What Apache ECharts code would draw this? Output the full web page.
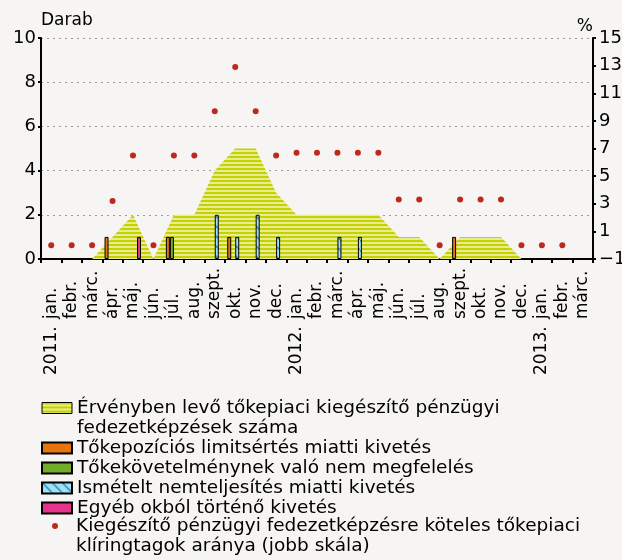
<!DOCTYPE html>
<html lang="hu">
<head>
<meta charset="UTF-8">
<title>Tőkepiaci kiegészítő pénzügyi fedezetképzések</title>
<script src="https://cdn.jsdelivr.net/npm/echarts@6/dist/echarts.min.js"></script>
<style>
    html, body { margin: 0; padding: 0; background: #f6f5f3; }
    #chart { width: 622px; height: 560px; }
</style>
</head>
<body>
<div id="chart"></div>
<script>
    // hónapok 2011. jan. - 2013. márc.
    const months = ['jan.', 'febr.', 'márc.', 'ápr.', 'máj.', 'jún.', 'júl.', 'aug.', 'szept.', 'okt.', 'nov.', 'dec.',
        'jan.', 'febr.', 'márc.', 'ápr.', 'máj.', 'jún.', 'júl.', 'aug.', 'szept.', 'okt.', 'nov.', 'dec.',
        'jan.', 'febr.', 'márc.'];
    const years = ['2011.', '2011.', '2011.', '2011.', '2011.', '2011.', '2011.', '2011.', '2011.', '2011.', '2011.', '2011.',
        '2012.', '2012.', '2012.', '2012.', '2012.', '2012.', '2012.', '2012.', '2012.', '2012.', '2012.', '2012.',
        '2013.', '2013.', '2013.'];
    const categories = months.map((m, i) => years[i] + ' ' + m);

    // bal skála (darab)
    const ervenyben = [0, 0, 0, 1, 2, 0, 2, 2, 4, 5, 5, 3, 2, 2, 2, 2, 2, 1, 1, 0, 1, 1, 1, 0, 0, 0, 0];
    const tokepozicio = [null, null, null, 1, null, null, 1, null, null, 1, null, null,
        null, null, null, null, null, null, null, null, 1, null, null, null, null, null, null];
    const tokekovetelmeny = [null, null, null, null, null, null, 1, null, null, null, null, null,
        null, null, null, null, null, null, null, null, null, null, null, null, null, null, null];
    const ismetelt = [null, null, null, null, null, null, null, null, 2, 1, 2, 1,
        null, null, 1, 1, null, null, null, null, null, null, null, null, null, null, null];
    const egyeb = [null, null, null, null, 1, null, null, null, null, null, null, null,
        null, null, null, null, null, null, null, null, null, null, null, null, null, null, null];
    // jobb skála (%)
    const arany = [0, 0, 0, 3.2, 6.5, 0, 6.5, 6.5, 9.7, 12.9, 9.7, 6.5,
        6.7, 6.7, 6.7, 6.7, 6.7, 3.3, 3.3, 0, 3.3, 3.3, 3.3, 0, 0, 0, null];

    const names = [
        'Érvényben levő tőkepiaci kiegészítő pénzügyi fedezetképzések száma',
        'Tőkepozíciós limitsértés miatti kivetés',
        'Tőkekövetelménynek való nem megfelelés',
        'Ismételt nemteljesítés miatti kivetés',
        'Egyéb okból történő kivetés',
        'Kiegészítő pénzügyi fedezetképzésre köteles tőkepiaci klíringtagok aránya (jobb skála)'
    ];
    const legendLines = {};
    legendLines[names[0]] = ['Érvényben levő tőkepiaci kiegészítő pénzügyi', 'fedezetképzések száma'];
    legendLines[names[5]] = ['Kiegészítő pénzügyi fedezetképzésre köteles tőkepiaci', 'klíringtagok aránya (jobb skála)'];
    const legendFormat = n => (legendLines[n] || [n]).map(s => '{t|' + s + '}').join('\n');

    const font = 'DejaVu Sans';

    // vízszintes csíkozás
    let stripeCanvas = () => {
        const c = document.createElement('canvas');
        c.width = 4; c.height = 4;
        const ctx = c.getContext('2d');
        ctx.fillStyle = '#e8ed93';
        ctx.fillRect(0, 0, 4, 4);
        ctx.fillStyle = '#c6d200';
        ctx.fillRect(0, 0, 4, 2);
        return c;
    };
    // ferde sraffozás
    let hatchCanvas = () => {
        const c = document.createElement('canvas');
        c.width = 10; c.height = 10;
        const ctx = c.getContext('2d');
        ctx.fillStyle = '#a3def2';
        ctx.fillRect(0, 0, 10, 10);
        ctx.strokeStyle = '#1d8ec2';
        ctx.lineWidth = 1.5;
        ctx.beginPath();
        ctx.moveTo(-1, -1); ctx.lineTo(11, 11);
        ctx.stroke();
        return c;
    };
    const stripe = {image: stripeCanvas(), repeat: 'repeat'};
    const hatch = {image: hatchCanvas(), repeat: 'repeat'};

    const barStyle = (color) => ({color: color, borderColor: '#000', borderWidth: 1});
    const legendTextStyle = {
        fontFamily: font, fontSize: 18.5, color: '#000', lineHeight: 20,
        rich: {t: {fontFamily: font, fontSize: 18.5, color: '#000', lineHeight: 20}}
    };

    let myChart = echarts.init(document.getElementById('chart'), null, {renderer: 'canvas'});
    myChart.setOption({
        backgroundColor: '#f6f5f3',
        animation: false,
        textStyle: {fontFamily: font, color: '#000'},
        grid: {left: 41, right: 29, top: 38, bottom: 301, outerBoundsMode: 'none'},
        legend: [{
            orient: 'vertical',
            left: 41,
            top: 378,
            padding: 0,
            itemGap: 0,
            itemWidth: 30,
            itemHeight: 11,
            selectedMode: false,
            textStyle: legendTextStyle,
            formatter: legendFormat,
            data: [
                {name: names[0], icon: 'rect', itemStyle: {color: stripe, borderColor: '#000', borderWidth: 1},
                    textStyle: {padding: [20, 0, 0, 0]}},
                {name: names[1], icon: 'rect'},
                {name: names[2], icon: 'rect'},
                {name: names[3], icon: 'rect'},
                {name: names[4], icon: 'rect'}
            ]
        }, {
            orient: 'vertical',
            left: 52,
            top: 496,
            padding: 0,
            itemWidth: 6,
            itemHeight: 6,
            selectedMode: false,
            textStyle: legendTextStyle,
            formatter: legendFormat,
            data: [
                {name: names[5], icon: 'circle', itemStyle: {color: '#c0281e', borderWidth: 0, opacity: 1},
                    textStyle: {padding: [20, 0, 0, 13]}}
            ]
        }],
        xAxis: [{
            type: 'category',
            data: categories,
            position: 'bottom',
            boundaryGap: true,
            axisLine: {lineStyle: {color: '#000', width: 2}},
            axisTick: {show: true, interval: 0, length: 4, lineStyle: {color: '#000', width: 2}},
            axisLabel: {
                interval: 0, rotate: 90, align: 'left', margin: 60,
                fontFamily: font, fontSize: 17, color: '#000',
                formatter: v => v.split(' ')[1]
            }
        }, {
            type: 'category',
            data: categories,
            position: 'bottom',
            boundaryGap: true,
            axisLine: {show: false},
            axisTick: {show: false},
            axisLabel: {
                interval: 0, rotate: 90, align: 'left', margin: 116,
                fontFamily: font, fontSize: 17, color: '#000',
                formatter: (v, i) => (i % 12 === 0 ? v.split(' ')[0] : '')
            }
        }],
        yAxis: [{
            type: 'value',
            min: 0, max: 10, interval: 2,
            name: 'Darab',
            nameLocation: 'end',
            nameGap: 3,
            nameTextStyle: {fontFamily: font, fontSize: 17, color: '#000', align: 'left', verticalAlign: 'bottom'},
            axisLine: {show: true, lineStyle: {color: '#000', width: 2}},
            axisTick: {show: true, length: 3, lineStyle: {color: '#000', width: 2}},
            axisLabel: {fontFamily: font, fontSize: 18, color: '#000', margin: 5},
            splitLine: {show: true, lineStyle: {color: '#9a9a9a', type: [2, 4], width: 1}}
        }, {
            type: 'value',
            position: 'right',
            min: -1, max: 15, interval: 2,
            name: '%',
            nameLocation: 'end',
            nameGap: 3,
            nameTextStyle: {fontFamily: font, fontSize: 17, color: '#000', align: 'right', verticalAlign: 'bottom'},
            axisLine: {show: true, lineStyle: {color: '#000', width: 2}},
            axisTick: {show: true, length: 3, lineStyle: {color: '#000', width: 2}},
            axisLabel: {
                fontFamily: font, fontSize: 18, color: '#000', margin: 6,
                formatter: v => (v < 0 ? '\u2212' + Math.abs(v) : String(v))
            },
            splitLine: {show: false}
        }],
        series: [{
            name: names[0],
            type: 'line',
            data: ervenyben,
            symbol: 'none',
            lineStyle: {width: 0},
            itemStyle: {color: stripe},
            areaStyle: {color: stripe, opacity: 1},
            z: 1
        }, {
            name: names[1],
            type: 'bar',
            data: tokepozicio,
            barWidth: 4,
            barGap: '0%',
            itemStyle: barStyle('#e8740e')
        }, {
            name: names[2],
            type: 'bar',
            data: tokekovetelmeny,
            barWidth: 4,
            barGap: '0%',
            itemStyle: barStyle('#72ad2a')
        }, {
            name: names[3],
            type: 'bar',
            data: ismetelt,
            barWidth: 4,
            barGap: '0%',
            itemStyle: barStyle(hatch)
        }, {
            name: names[4],
            type: 'bar',
            data: egyeb,
            barWidth: 4,
            barGap: '0%',
            itemStyle: barStyle('#e6348c')
        }, {
            name: names[5],
            type: 'scatter',
            yAxisIndex: 1,
            data: arany,
            symbol: 'circle',
            symbolSize: 6,
            itemStyle: {color: '#c0281e', opacity: 1},
            z: 5
        }]
    });
</script>
</body>
</html>
